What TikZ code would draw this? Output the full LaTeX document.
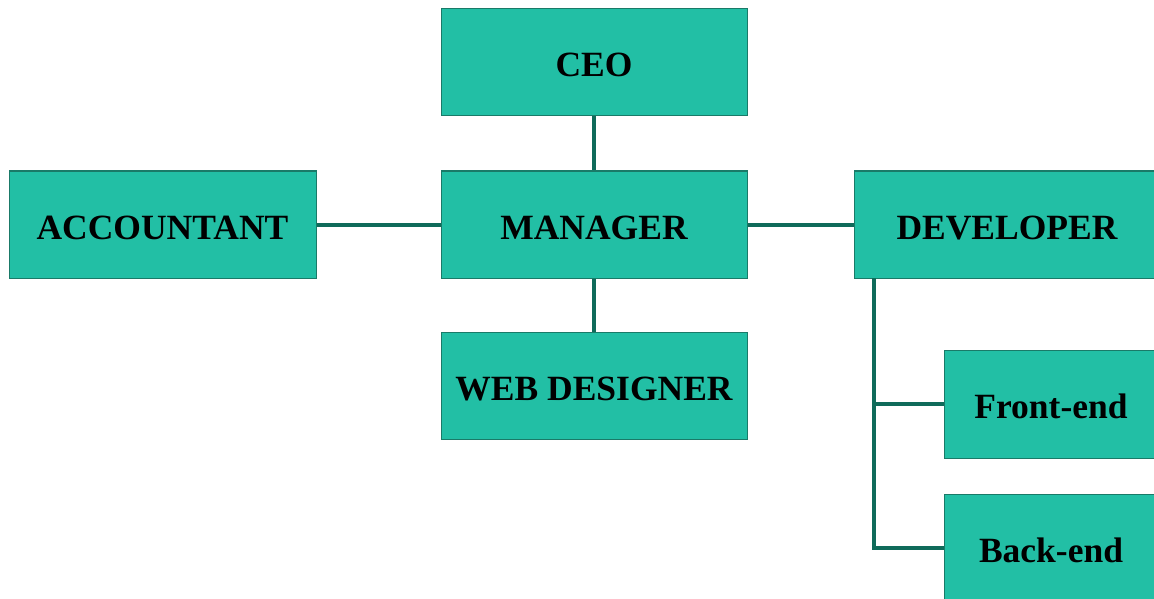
\documentclass[tikz,border=0pt]{standalone}
\usepackage{fontspec}
\setmainfont{Liberation Serif}
\definecolor{boxfill}{HTML}{22BFA5}
\definecolor{boxline}{HTML}{1A7A68}
\definecolor{conn}{HTML}{0F6B5A}
\begin{document}
\begin{tikzpicture}[x=1pt,y=-1pt,
  orgbox/.style={draw=boxline,line width=1pt,fill=boxfill,rectangle,minimum width=306pt,minimum height=107pt,inner sep=0pt,text height=29pt,text depth=0pt,font=\fontsize{35.5}{40}\selectfont\bfseries,text=black},
  link/.style={draw=conn,line width=4pt}]
\useasboundingbox (0,0) rectangle (1154,599);
\clip (0,0) rectangle (1154,599);
\node[orgbox] (ceo) at (594,62.5) {CEO};
\node[orgbox] (mgr) at (594,224.5) {MANAGER};
\node[orgbox,minimum width=307pt] (acc) at (162.5,224.5) {ACCOUNTANT};
\node[orgbox] (dev) at (1007,224.5) {DEVELOPER};
\node[orgbox] (web) at (594,386) {WEB DESIGNER};
\node[orgbox,minimum width=214pt,minimum height=108pt] (front) at (1051,404) {Front-end};
\node[orgbox,minimum width=214pt,minimum height=108pt] (back) at (1051,548) {Back-end};
\coordinate (dtop) at (874,278);
\coordinate (dbot) at (874,548);
\coordinate (dmid) at (874,404);
\path[link] (ceo.south) -- (mgr.north);
\path[link] (mgr.south) -- (web.north);
\path[link] (acc.east) -- (mgr.west);
\path[link] (mgr.east) -- (dev.west);
\path[link,line join=miter] (dtop) -- (dbot) -- (back.west);
\path[link] (dmid) -- (front.west);
\end{tikzpicture}
\end{document}
